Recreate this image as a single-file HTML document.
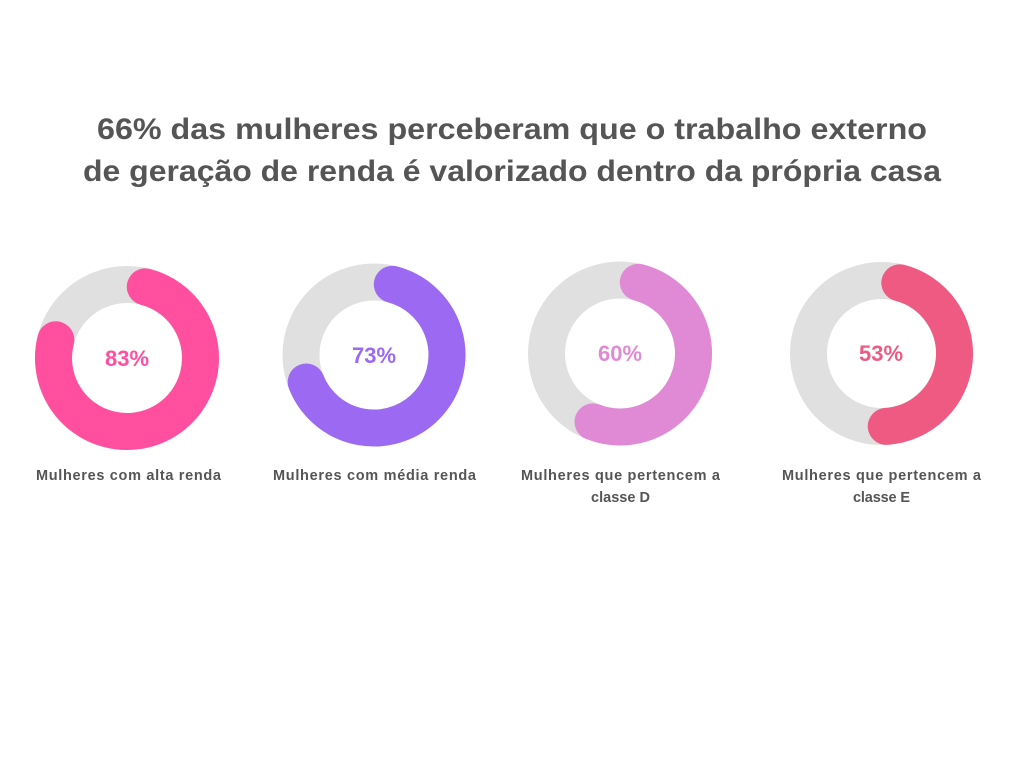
<!DOCTYPE html>
<html><head><meta charset="utf-8"><style>
html,body{margin:0;padding:0;background:#fff;}
svg{display:block;}
</style></head><body>
<svg width="1024" height="768" viewBox="0 0 1024 768" xmlns="http://www.w3.org/2000/svg" font-family="'Liberation Sans', 'DejaVu Sans', sans-serif" font-weight="bold">
<rect width="1024" height="768" fill="#fff"/>
<text x="512" y="139" text-anchor="middle" font-size="30" fill="#555555" textLength="830" lengthAdjust="spacingAndGlyphs">66% das mulheres perceberam que o trabalho externo</text>
<text x="512" y="181" text-anchor="middle" font-size="30" fill="#555555" textLength="858" lengthAdjust="spacingAndGlyphs">de geração de renda é valorizado dentro da própria casa</text>
<g fill="none" stroke-width="37">
<circle cx="127" cy="358" r="73.5" stroke="#E0E0E0"/>
<path d="M145.30 286.82 A73.5 73.5 0 1 1 55.80 339.74" stroke="#FF4F9E" stroke-linecap="round"/>
<circle cx="374" cy="355" r="73" stroke="#E0E0E0"/>
<path d="M392.30 284.33 A73 73 0 1 1 306.18 382.02" stroke="#9B69F2" stroke-linecap="round"/>
<circle cx="620" cy="353.5" r="73.5" stroke="#E0E0E0"/>
<path d="M638.30 282.32 A73.5 73.5 0 1 1 592.97 421.85" stroke="#E08AD6" stroke-linecap="round"/>
<circle cx="881.5" cy="353.5" r="73" stroke="#E0E0E0"/>
<path d="M899.80 282.83 A73 73 0 0 1 886.24 426.35" stroke="#EE5A82" stroke-linecap="round"/>
</g>
<g font-size="14.5" fill="#555555" text-anchor="middle" lengthAdjust="spacingAndGlyphs">
<text x="128.5" y="480" textLength="185">Mulheres com alta renda</text>
<text x="374.5" y="480" textLength="203">Mulheres com média renda</text>
<text x="620.5" y="480" textLength="199">Mulheres que pertencem a</text>
<text x="620.5" y="502" textLength="59">classe D</text>
<text x="881.5" y="480" textLength="199">Mulheres que pertencem a</text>
<text x="881.5" y="502" textLength="57">classe E</text>
</g>
<g font-size="22" text-anchor="middle">
<text x="127" y="366" fill="#FF4F9E">83%</text>
<text x="374" y="363" fill="#9B69F2">73%</text>
<text x="620" y="361" fill="#E08AD6">60%</text>
<text x="881" y="361" fill="#EE5A82">53%</text>
</g>
</svg>
</body></html>
